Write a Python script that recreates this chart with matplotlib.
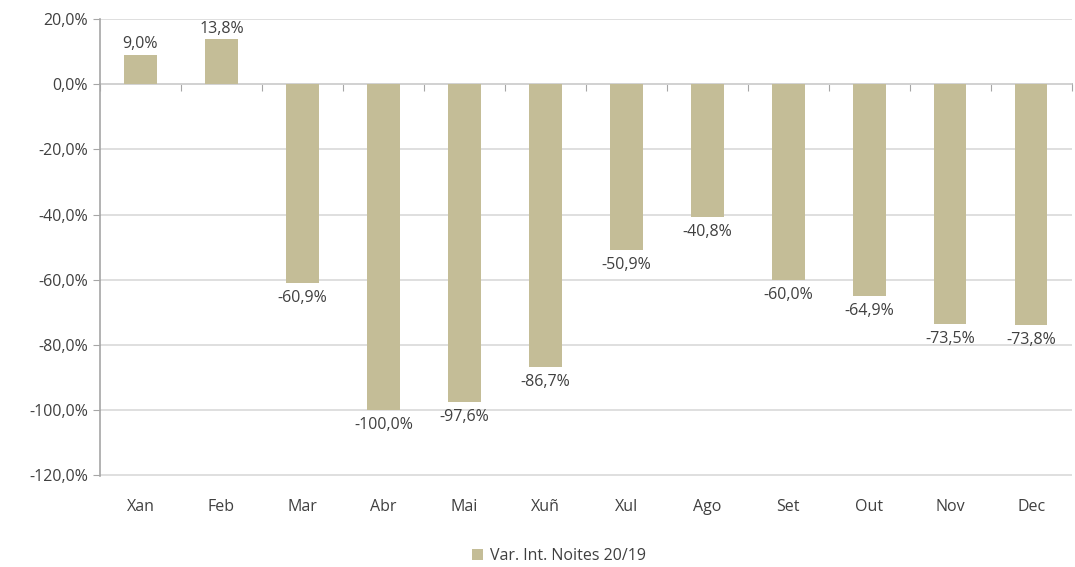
import matplotlib.pyplot as plt
import numpy as np

months = ['Xan', 'Feb', 'Mar', 'Abr', 'Mai', 'Xuñ', 'Xul', 'Ago', 'Set', 'Out', 'Nov', 'Dec']
var_noites = [9.0, 13.8, -60.9, -100.0, -97.6, -86.7, -50.9, -40.8, -60.0, -64.9, -73.5, -73.8]
yticks = [20, 0, -20, -40, -60, -80, -100, -120]

bar_color = '#C4BD97'
text_color = '#404040'
plt.rcParams['font.family'] = ['Open Sans', 'DejaVu Sans']

fig = plt.figure(figsize=(10.75, 5.67), dpi=100)
ax = fig.add_axes([0.093, 0.16, 0.904, 0.806])

x = np.arange(len(months))
bars = ax.bar(x, var_noites, width=0.4, color=bar_color, zorder=3,
              label='Var. Int. Noites 20/19')

for xi, v in zip(x, var_noites):
    lbl = '{:.1f}%'.format(v).replace('.', ',')
    if v >= 0:
        ax.annotate(lbl, (xi, v), xytext=(0, 2), textcoords='offset points',
                    ha='center', va='bottom', fontsize=11.5, color=text_color)
    else:
        ax.annotate(lbl, (xi, v), xytext=(0, -5), textcoords='offset points',
                    ha='center', va='top', fontsize=11.5, color=text_color)

ax.set_xlim(-0.5, len(months) - 0.5)
ax.set_ylim(-120.4, 20)
ax.set_yticks(yticks)
ax.set_yticklabels(['{:.1f}%'.format(t).replace('.', ',') for t in yticks])
ax.set_xticks(x)
ax.set_xticklabels(months)
ax.tick_params(axis='x', length=0, pad=16, labelsize=11.5, colors=text_color)
ax.tick_params(axis='y', length=5, color='#a6a6a6', labelsize=11.5, colors=text_color)
ax.grid(axis='y', color='#d9d9d9', linewidth=1.2, zorder=0)

for s in ['top', 'right', 'bottom']:
    ax.spines[s].set_visible(False)
ax.spines['left'].set_color('#a6a6a6')
ax.spines['left'].set_linewidth(1.2)

# category axis sitting on the zero line, with ticks between the months
zero_axis = ax.secondary_xaxis(120.4 / 140.4)
zero_axis.set_xticks(np.arange(len(months) + 1) - 0.5)
zero_axis.set_xticklabels([])
zero_axis.tick_params(direction='in', length=5, color='#a6a6a6')
for s in zero_axis.spines.values():
    s.set_color('#a6a6a6')
    s.set_linewidth(1.2)

leg = fig.legend(loc='lower center', bbox_to_anchor=(0.52, -0.02), frameon=False,
                 fontsize=11.5, handlelength=0.7, handleheight=0.7, handletextpad=0.4)
for t in leg.get_texts():
    t.set_color(text_color)

fig.savefig('out.png', dpi=100)
